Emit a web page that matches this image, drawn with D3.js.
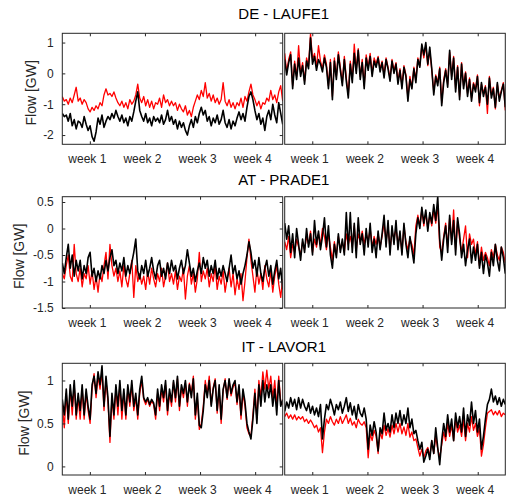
<!DOCTYPE html>
<html>
<head>
<meta charset="utf-8">
<script src="https://cdn.jsdelivr.net/npm/d3@7.9.0/dist/d3.min.js"></script>
<style>
  body { margin: 0; background: #fff; }
  svg { display: block; font-family: "Liberation Sans", Arial, sans-serif; }
</style>
</head>
<body>
<div id="chart"></div>
<script>
// ---- data (one point every 6 h over 4 weeks) ----
const titles = ['DE - LAUFE1', 'AT - PRADE1', 'IT - LAVOR1'];
const weekLabels = ['week 1', 'week 2', 'week 3', 'week 4'];
const weekTicks = [84, 252, 420, 588]; // hours, middle of each week
const hoursTotal = 672;

const yDomainDE = [-2.3, 1.3];
const yDomainAT = [-1.5, 0.6];
const yDomainIT = [-0.1, 1.2];
const yTicksDE = [-2, -1, 0, 1];
const yTicksAT = [-1.5, -1, -0.5, 0, 0.5];
const yTicksIT = [0, 0.5, 1];

const deLeftRed = [
  -0.75,-0.9,-0.85,-1.0,-0.8,-0.95,-0.7,-0.45,
  -0.9,-0.8,-1.0,-0.85,-0.95,-1.15,-1.25,-1.1,
  -1.2,-1.05,-1.15,-0.95,-1.05,-0.7,-0.5,-0.7,
  -0.65,-0.75,-0.6,-0.8,-0.95,-1.05,-0.9,-1.1,
  -0.95,-1.15,-0.85,-1.0,-0.9,-0.7,-0.35,-0.8,
  -0.95,-0.75,-1.05,-0.85,-1.1,-0.9,-1.15,-0.95,
  -1.0,-0.8,-1.1,-0.7,-0.95,-0.85,-1.05,-0.9,
  -1.05,-0.95,-1.2,-1.0,-1.15,-1.25,-1.05,-1.35,
  -1.2,-1.4,-1.1,-0.9,-0.7,-0.85,-0.55,-0.75,
  -0.3,-0.8,-0.65,-0.9,-0.7,-0.95,-0.8,-1.0,
  -0.85,-0.3,-0.9,-1.05,-0.85,-1.1,-0.95,-1.15,
  -0.95,-1.05,-0.8,-1.1,-0.75,-0.9,-0.6,-0.35,
  -0.7,-0.85,-1.05,-0.9,-1.15,-0.95,-1.0,-0.8,
  -0.9,-0.55,-0.85,-0.7,-0.95,-0.6,-0.4,-0.9
];
const deLeftBlack = [
  -1.3,-1.4,-1.35,-1.55,-1.3,-1.7,-1.5,-1.8,
  -1.55,-1.6,-1.75,-1.4,-1.65,-1.85,-1.7,-2.05,
  -2.2,-1.9,-1.45,-1.65,-1.35,-1.75,-1.55,-1.4,
  -1.5,-1.3,-1.45,-1.2,-1.4,-1.55,-1.35,-1.6,
  -1.45,-1.7,-1.4,-1.55,-1.25,-0.9,-0.6,-1.2,
  -1.4,-1.55,-1.3,-1.6,-1.45,-1.7,-1.4,-1.55,
  -1.45,-1.6,-1.35,-1.65,-1.5,-1.2,-1.55,-1.4,
  -1.65,-1.5,-1.8,-1.55,-1.75,-1.6,-1.85,-2.0,
  -1.7,-1.5,-1.75,-1.4,-1.6,-1.3,-1.1,-1.35,
  -1.2,-1.55,-1.4,-1.7,-1.45,-1.6,-1.35,-1.65,
  -1.5,-1.2,-1.6,-1.75,-1.5,-1.8,-1.55,-1.7,
  -1.45,-1.25,-1.5,-1.3,-1.55,-1.1,-0.75,-0.6,
  -0.85,-1.2,-1.5,-1.3,-1.65,-1.45,-1.85,-1.4,
  -1.2,-1.5,-1.0,-1.35,-1.6,-0.95,-1.3,-1.65
];
const deRightRed = [
  0.65,0.05,0.45,0.7,-0.4,0.4,-0.1,0.9,
  0.0,0.35,-0.25,0.5,0.25,1.3,0.45,0.65,
  0.2,0.9,0.4,0.15,0.6,0.3,-0.4,0.45,
  -0.75,0.5,-0.1,0.7,0.2,-0.3,0.55,-0.15,
  -0.7,0.4,-0.2,0.95,0.1,0.8,-0.1,0.45,
  -0.4,0.6,0.2,0.65,0.0,0.5,0.3,0.55,
  0.15,0.4,-0.05,0.5,0.2,-0.15,0.45,0.1,
  0.35,-0.25,0.15,-0.4,0.25,-0.05,-0.8,-0.1,
  -0.45,0.2,-0.2,0.5,0.25,0.9,0.5,0.9,
  0.25,0.75,0.1,-0.6,-0.05,-0.3,0.2,-0.95,
  -0.2,0.15,-0.35,0.7,-0.1,0.55,-0.5,0.25,
  -0.75,0.35,-0.4,0.05,-0.65,-0.15,-0.8,-0.3,
  -0.5,-0.05,-1.05,-0.35,-0.65,-0.4,-1.3,-0.1,
  -0.7,-0.45,-1.15,-0.35,-0.8,-0.55,-0.3,-1.2
];
const deRightBlack = [
  0.45,-0.05,0.35,0.6,-0.5,0.3,-0.2,0.5,
  -0.1,0.25,-0.35,0.4,0.15,1.15,0.3,0.55,
  0.1,0.45,0.3,0.05,0.5,0.2,-0.5,0.35,
  -0.85,0.4,-0.2,0.6,0.1,-0.4,0.45,-0.25,
  -0.8,0.3,-0.3,0.65,0.0,0.75,-0.2,0.35,
  -0.5,0.5,0.1,0.55,-0.1,0.4,0.2,0.5,
  0.05,0.35,-0.15,0.45,0.15,-0.25,0.4,0.0,
  0.3,-0.35,0.1,-0.5,0.2,-0.1,-0.9,-0.2,
  -0.5,0.15,-0.3,0.45,0.2,0.95,0.6,1.0,
  0.3,0.85,0.15,-0.7,-0.1,-0.4,0.15,-1.05,
  -0.3,0.1,-0.45,0.75,-0.2,0.5,-0.6,0.2,
  -0.85,0.3,-0.5,0.0,-0.75,-0.2,-0.9,-0.35,
  -0.6,-0.1,-0.95,-0.3,-0.75,-0.45,-1.0,-0.15,
  -0.8,-0.5,-1.1,-0.3,-0.9,-0.6,-0.35,-1.1
];

const atLeftRed = [
  -0.85,-0.95,-0.7,-0.5,-0.9,-1.0,-0.3,-0.85,
  -1.0,-0.75,-1.1,-0.85,-0.95,-0.7,-1.05,-0.8,
  -1.15,-0.9,-1.2,-0.85,-1.0,-0.7,-0.45,-0.95,
  -0.3,-0.7,-0.9,-0.75,-1.0,-0.8,-1.1,-0.7,
  -0.95,-1.1,-0.85,-0.6,-1.3,-0.7,-1.0,-0.85,
  -1.05,-0.9,-1.15,-0.8,-1.05,-0.75,-0.95,-1.1,
  -0.85,-1.0,-0.75,-1.1,-0.9,-0.65,-1.0,-0.85,
  -1.05,-0.8,-1.15,-0.9,-1.0,-0.75,-1.33,-0.9,
  -0.7,-1.05,-0.85,-1.2,-0.95,-0.45,-1.0,-0.8,
  -0.95,-0.75,-1.1,-0.85,-1.0,-0.7,-1.15,-0.9,
  -1.05,-0.8,-1.2,-0.95,-0.75,-1.1,-0.85,-1.25,
  -0.95,-1.15,-0.85,-1.36,-1.0,-0.55,-0.2,-0.6,
  -0.9,-1.2,-0.75,-1.05,-0.85,-1.15,-0.7,-0.95,
  -1.1,-0.8,-1.2,-0.9,-0.7,-1.05,-1.3,-0.95
];
const atLeftBlack = [
  -0.65,-0.85,-0.55,-0.3,-0.75,-0.5,-0.9,-0.6,
  -0.8,-0.6,-0.95,-0.7,-0.85,-0.55,-0.45,-0.9,
  -0.75,-1.0,-0.8,-0.95,-0.7,-0.85,-0.6,-0.8,
  -0.55,-0.4,-0.7,-0.6,-0.85,-0.65,-0.8,-0.55,
  -0.9,-0.7,-0.85,-0.65,-0.45,-0.2,-0.8,-0.95,
  -0.7,-0.85,-0.6,-0.9,-0.75,-0.55,-0.8,-0.95,
  -0.7,-0.6,-0.9,-0.75,-0.95,-0.65,-0.85,-0.6,
  -0.8,-0.7,-0.95,-0.75,-0.6,-0.85,-0.7,-0.4,
  -0.65,-0.9,-0.75,-1.0,-0.8,-0.65,-0.85,-0.55,
  -0.75,-0.6,-0.9,-0.7,-0.85,-0.6,-0.95,-0.75,
  -0.9,-0.7,-0.85,-1.0,-0.75,-0.5,-0.85,-0.7,
  -0.95,-0.8,-1.05,-0.85,-0.7,-0.5,-0.25,-0.45,
  -0.75,-0.6,-0.9,-0.55,-0.85,-1.0,-0.75,-0.6,
  -0.9,-0.7,-1.05,-0.8,-0.6,-0.95,-0.75,-1.15
];
const atRightRed = [
  -0.25,-0.4,-0.15,-0.55,-0.3,-0.45,-0.2,-0.35,
  -0.5,-0.25,-0.4,-0.15,-0.3,-0.05,-0.45,-0.2,
  -0.35,-0.1,-0.3,0.0,-0.15,-0.4,-0.1,-0.35,
  -0.6,-0.25,-0.5,-0.15,-0.4,-0.25,-0.45,-0.1,
  -0.3,-0.15,-0.35,0.05,-0.4,-0.1,-0.25,-0.05,
  -0.3,-0.1,-0.25,0.0,-0.35,-0.15,-0.3,-0.1,
  -0.35,-0.15,0.1,-0.25,0.05,-0.4,-0.05,-0.2,
  0.0,-0.3,-0.1,-0.45,0.05,-0.25,-0.4,-0.2,
  -0.3,-0.5,0.05,0.25,0.05,0.35,0.05,0.3,
  0.0,0.25,0.05,0.35,0.1,0.45,-0.35,-0.45,
  -0.15,0.1,-0.35,0.2,-0.25,0.35,-0.4,0.15,
  -0.2,-0.45,-0.2,0.05,-0.55,-0.1,-0.3,-0.2,
  -0.5,-0.25,-0.7,-0.35,-0.6,-0.45,-0.55,-0.7,
  -0.4,-0.55,-0.3,-0.5,-0.6,-0.35,-0.45,-0.65
];
const atRightBlack = [
  0.1,-0.2,0.05,-0.45,-0.1,-0.55,0.0,-0.3,
  -0.6,-0.2,-0.45,0.0,-0.35,-0.1,-0.5,0.15,
  -0.3,-0.05,-0.4,-0.15,0.2,-0.35,0.05,-0.5,
  -0.75,-0.3,-0.55,-0.1,-0.45,-0.2,-0.5,0.3,
  -0.4,0.3,-0.45,0.1,-0.55,0.2,-0.3,-0.1,
  -0.5,0.0,-0.35,0.1,-0.45,-0.2,-0.55,-0.05,
  -0.4,-0.1,0.25,-0.35,0.15,-0.5,0.05,-0.3,
  0.15,-0.4,-0.05,-0.5,0.1,-0.3,-0.55,-0.15,
  -0.4,-0.65,-0.1,0.2,0.0,0.4,0.1,0.35,
  -0.05,0.3,0.1,0.45,0.15,0.6,-0.2,-0.6,
  -0.2,0.05,-0.45,0.25,-0.3,0.15,-0.5,0.2,
  -0.1,-0.55,-0.3,-0.7,-0.4,-0.2,-0.65,-0.35,
  -0.6,-0.3,-0.75,-0.45,-0.85,-0.5,-0.65,-0.9,
  -0.45,-0.7,-0.3,-0.6,-0.8,-0.35,-0.55,-0.85
];

const itLeftRed = [
  0.72,0.45,0.85,0.5,0.9,0.6,0.95,0.55,
  0.8,0.55,0.9,0.55,0.85,0.65,0.5,0.9,
  1.08,0.8,1.05,0.9,1.1,0.65,1.0,0.75,
  0.28,0.8,0.55,0.9,0.6,0.95,0.55,0.85,
  0.55,0.9,0.7,0.95,0.65,0.8,0.55,0.85,
  1.0,0.78,0.72,0.78,0.7,0.76,0.72,0.55,
  0.85,0.65,0.9,0.75,0.95,0.6,0.85,0.7,
  0.98,0.75,1.02,0.65,0.92,0.8,0.97,0.7,
  0.97,0.85,1.05,0.55,0.8,0.43,0.5,0.7,
  1.0,0.85,1.05,0.72,0.92,1.02,0.62,0.9,
  0.5,0.88,1.02,0.78,1.0,0.82,0.92,0.98,
  0.72,0.92,0.55,0.85,0.7,0.45,0.38,0.35,
  0.6,0.9,0.55,1.0,0.8,1.1,0.9,1.12,
  0.9,1.05,0.8,1.0,0.7,1.05,0.75,0.72
];
const itLeftBlack = [
  0.78,0.6,0.9,0.55,0.95,0.7,1.0,0.6,
  0.85,0.65,0.95,0.6,0.9,0.7,0.55,0.95,
  1.05,0.85,1.1,0.95,1.17,0.7,1.05,0.8,
  0.35,0.85,0.6,0.95,0.7,1.0,0.65,0.9,
  0.6,0.95,0.75,1.0,0.7,0.85,0.6,0.9,
  1.05,0.8,0.75,0.8,0.72,0.78,0.74,0.6,
  0.9,0.7,0.95,0.8,1.0,0.65,0.9,0.75,
  1.0,0.8,1.05,0.7,0.95,0.85,1.0,0.75,
  0.95,0.8,1.02,0.6,0.85,0.48,0.45,0.65,
  0.95,0.8,1.0,0.7,0.9,1.0,0.65,0.95,
  0.55,0.9,1.0,0.8,1.02,0.85,0.95,1.0,
  0.75,0.95,0.6,0.9,0.75,0.5,0.4,0.32,
  0.55,0.85,0.5,0.95,0.7,1.0,0.75,0.95,
  0.8,0.95,0.7,0.9,0.6,1.0,0.7,0.78
];
const itRightRed = [
  0.58,0.62,0.56,0.6,0.55,0.6,0.54,0.58,
  0.55,0.58,0.52,0.55,0.5,0.54,0.5,0.45,
  0.48,0.4,0.45,0.16,0.4,0.55,0.5,0.58,
  0.52,0.48,0.55,0.5,0.58,0.5,0.55,0.6,
  0.5,0.56,0.48,0.52,0.45,0.55,0.5,0.48,
  0.52,0.45,0.1,0.38,0.3,0.42,0.35,0.15,
  0.4,0.32,0.48,0.36,0.44,0.34,0.48,0.38,
  0.5,0.4,0.5,0.38,0.46,0.36,0.5,0.34,
  0.4,0.3,0.32,0.22,0.12,0.2,0.1,0.18,
  0.22,0.12,0.3,0.15,0.35,0.2,0.1,0.25,
  0.4,0.3,0.5,0.35,0.48,0.3,0.55,0.4,
  0.48,0.35,0.55,0.3,0.5,0.4,0.58,0.42,
  0.5,0.35,0.45,0.12,0.25,0.45,0.62,0.64,
  0.66,0.6,0.64,0.6,0.65,0.58,0.62,0.6
];
const itRightBlack = [
  0.64,0.75,0.68,0.8,0.7,0.78,0.66,0.8,
  0.68,0.78,0.7,0.65,0.74,0.62,0.7,0.6,
  0.68,0.58,0.72,0.32,0.55,0.72,0.66,0.78,
  0.7,0.6,0.72,0.66,0.75,0.62,0.7,0.8,
  0.64,0.74,0.6,0.7,0.55,0.72,0.62,0.58,
  0.68,0.55,0.2,0.48,0.36,0.52,0.4,0.18,
  0.45,0.38,0.62,0.42,0.5,0.4,0.6,0.45,
  0.62,0.5,0.65,0.48,0.6,0.5,0.68,0.45,
  0.55,0.38,0.42,0.3,0.2,0.28,0.05,0.12,
  0.2,0.08,0.3,0.15,0.45,0.22,0.02,0.3,
  0.5,0.35,0.6,0.4,0.55,0.3,0.62,0.45,
  0.58,0.4,0.68,0.35,0.6,0.48,0.75,0.5,
  0.65,0.4,0.55,0.2,0.35,0.55,0.72,0.78,
  0.9,0.75,0.82,0.72,0.8,0.7,0.78,0.72
];

// ---- layout ----
const width = 509, height = 500;
const panelX = [[62.3, 282.7], [284.7, 505.3]];
const rows = [
  { title: titles[0], top: 33.3, bottom: 144.3, titleY: 18.5, labelX: 36, domain: yDomainDE, ticks: yTicksDE,
    series: [[deLeftRed, deLeftBlack], [deRightRed, deRightBlack]] },
  { title: titles[1], top: 196.7, bottom: 308, titleY: 185.2, labelX: 23.5, domain: yDomainAT, ticks: yTicksAT,
    series: [[atLeftRed, atLeftBlack], [atRightRed, atRightBlack]] },
  { title: titles[2], top: 363.3, bottom: 475, titleY: 352.3, labelX: 28.5, domain: yDomainIT, ticks: yTicksIT,
    series: [[itLeftRed, itLeftBlack], [itRightRed, itRightBlack]] },
];

const svg = d3.select('#chart').append('svg')
  .attr('width', width)
  .attr('height', height);

const axisColor = '#262626';

rows.forEach((row, r) => {
  // title
  svg.append('text')
    .attr('x', (panelX[0][0] + panelX[1][1]) / 2)
    .attr('y', row.titleY)
    .attr('text-anchor', 'middle')
    .attr('font-size', 15)
    .attr('fill', '#000')
    .text(row.title);

  // y label
  svg.append('text')
    .attr('transform', `translate(${row.labelX},${(row.top + row.bottom) / 2 + 4}) rotate(-90)`)
    .attr('text-anchor', 'middle')
    .attr('font-size', 14)
    .attr('fill', axisColor)
    .text('Flow [GW]');

  panelX.forEach(([x0, x1], p) => {
    const xScale = d3.scaleLinear().domain([0, hoursTotal]).range([x0, x1]);
    const yScale = d3.scaleLinear().domain(row.domain).range([row.bottom, row.top]);
    const g = svg.append('g');

    const clipId = `clip-${r}-${p}`;
    g.append('clipPath').attr('id', clipId)
      .append('rect')
      .attr('x', x0).attr('y', row.top)
      .attr('width', x1 - x0).attr('height', row.bottom - row.top);

    const [red, black] = row.series[p];
    const line = (arr) => d3.line()
      .x((d, i) => xScale(i * hoursTotal / (arr.length - 1)))
      .y((d) => yScale(d))(arr);

    const lines = g.append('g').attr('clip-path', `url(#${clipId})`);
    lines.append('path').attr('d', line(red))
      .attr('fill', 'none').attr('stroke', '#ff0000').attr('stroke-width', 1.3)
      .attr('stroke-linejoin', 'round');
    lines.append('path').attr('d', line(black))
      .attr('fill', 'none').attr('stroke', '#000').attr('stroke-width', 1.6)
      .attr('stroke-linejoin', 'round');

    // x axes (ticks inward, bottom with labels, top without)
    const xb = g.append('g')
      .attr('transform', `translate(0,${row.bottom})`)
      .call(d3.axisBottom(xScale).tickValues(weekTicks).tickSize(-3).tickPadding(10)
        .tickFormat((d, i) => weekLabels[i]));
    const xt = g.append('g')
      .attr('transform', `translate(0,${row.top})`)
      .call(d3.axisTop(xScale).tickValues(weekTicks).tickSize(-3).tickFormat(''));
    xb.selectAll('text').attr('dx', -3);

    const axes = [xb, xt];
    if (p === 0) {
      const yl = g.append('g')
        .attr('transform', `translate(${x0},0)`)
        .call(d3.axisLeft(yScale).tickValues(row.ticks).tickSize(-3).tickPadding(8.5)
          .tickFormat((d) => String(d)));
      const yr = g.append('g')
        .attr('transform', `translate(${x1},0)`)
        .call(d3.axisRight(yScale).tickValues(row.ticks).tickSize(-3).tickFormat(''));
      axes.push(yl, yr);
    }
    axes.forEach((a) => {
      a.select('.domain').remove();
      a.selectAll('line').attr('stroke', axisColor);
      a.selectAll('text').attr('fill', axisColor).attr('font-size', 12)
        .attr('font-family', '"Liberation Sans", Arial, sans-serif');
    });

    // frame
    g.append('rect')
      .attr('x', x0).attr('y', row.top)
      .attr('width', x1 - x0).attr('height', row.bottom - row.top)
      .attr('fill', 'none')
      .attr('stroke', axisColor)
      .attr('stroke-width', 1);
  });
});
</script>
</body>
</html>
